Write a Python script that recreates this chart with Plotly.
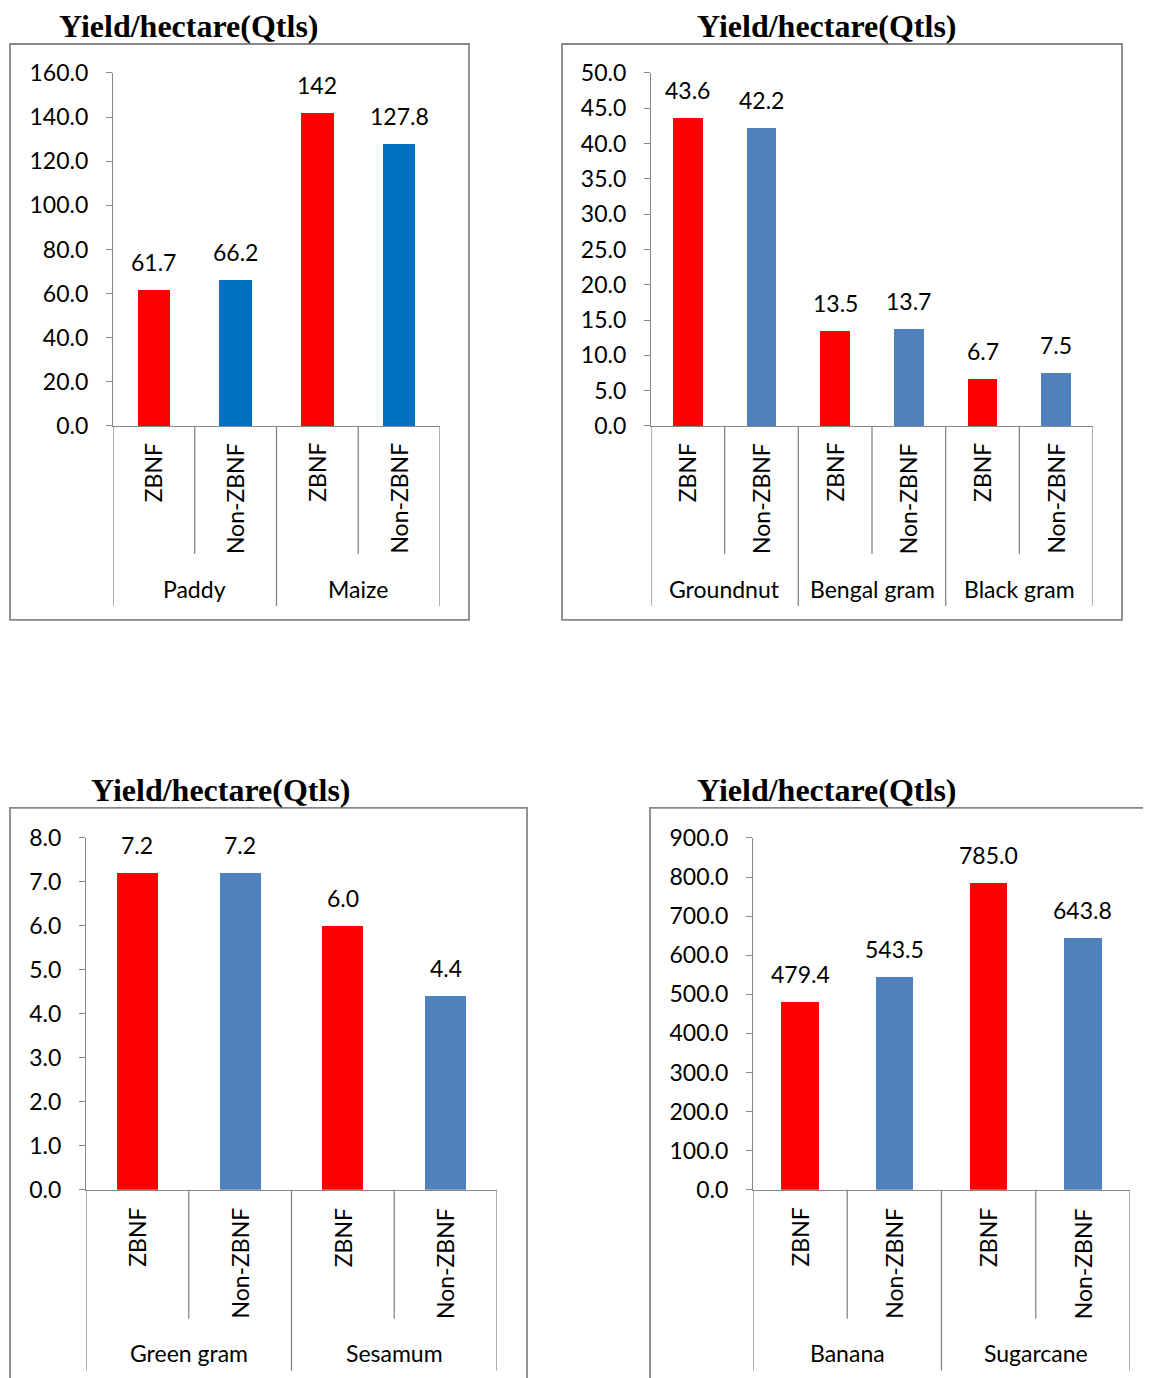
import plotly.graph_objects as go

# ---------------- data ----------------
title_text = "Yield/hectare(Qtls)"
sub_labels = ["ZBNF", "Non-ZBNF"]

p1_groups = ["Paddy", "Maize"]
p1_values = [61.7, 66.2, 142, 127.8]
p1_labels = ["61.7", "66.2", "142", "127.8"]

p2_groups = ["Groundnut", "Bengal gram", "Black gram"]
p2_values = [43.6, 42.2, 13.5, 13.7, 6.7, 7.5]
p2_labels = ["43.6", "42.2", "13.5", "13.7", "6.7", "7.5"]

p3_groups = ["Green gram", "Sesamum"]
p3_values = [7.2, 7.2, 6.0, 4.4]
p3_labels = ["7.2", "7.2", "6.0", "4.4"]

p4_groups = ["Banana", "Sugarcane"]
p4_values = [479.4, 543.5, 785.0, 643.8]
p4_labels = ["479.4", "543.5", "785.0", "643.8"]

y_ranges = [(0, 160, 20), (0, 50, 5), (0, 8, 1), (0, 900, 100)]

# ---------------- style / layout ----------------
# page offsets observed in the viewer (body margin etc.)
OFF_X, OFF_Y, SCALE_Y = 8, 22, 0.98
W, H = 1135, 1392
RED = "#FF0000"
BLUES = ["#0070C0", "#4F81BD", "#4F81BD", "#4F81BD"]
GRAY = "#878787"
FONT = "Lato"
FS = 23

# pixel geometry per panel (window coordinates)
panels = [
    dict(groups=p1_groups, values=p1_values, labels=p1_labels,
         ax_l=113, ax_r=440, top=72, bot=425, frame=(10, 43, 469, 619),
         tx=188, ty=25, lab_top=440, sep_in=553, sep_out=605, grp_y=588),
    dict(groups=p2_groups, values=p2_values, labels=p2_labels,
         ax_l=651, ax_r=1093, top=72, bot=425, frame=(562, 43, 1122, 619),
         tx=826, ty=25, lab_top=440, sep_in=553, sep_out=605, grp_y=588),
    dict(groups=p3_groups, values=p3_values, labels=p3_labels,
         ax_l=86, ax_r=497, top=837, bot=1189, frame=(10, 807, 527, 1420),
         tx=220, ty=789, lab_top=1205, sep_in=1318, sep_out=1370, grp_y=1352),
    dict(groups=p4_groups, values=p4_values, labels=p4_labels,
         ax_l=753, ax_r=1130, top=837, bot=1189, frame=(650, 807, 1180, 1420),
         tx=826, ty=789, lab_top=1205, sep_in=1318, sep_out=1370, grp_y=1352),
]


def px(x):
    return (x - OFF_X) / W


def py(y):
    return 1 - ((y - OFF_Y) / SCALE_Y) / H


fig = go.Figure()
shapes = []
annotations = []
layout_axes = {}

for k, p in enumerate(panels):
    idx = "" if k == 0 else str(k + 1)
    xa, ya = "x" + idx, "y" + idx
    n = len(p["values"])
    xs = list(range(n))
    colors = [RED if i % 2 == 0 else BLUES[k] for i in xs]
    fig.add_trace(go.Bar(x=xs, y=p["values"], marker=dict(color=colors, line=dict(width=0)),
                         width=0.4, xaxis=xa, yaxis=ya, showlegend=False, hoverinfo="skip"))
    y0, y1, dt = y_ranges[k]
    layout_axes["xaxis" + idx] = dict(
        domain=[px(p["ax_l"]), px(p["ax_r"])], anchor=ya, range=[-0.5, n - 0.5],
        showline=True, linecolor=GRAY, linewidth=1.3, showticklabels=False,
        ticks="", showgrid=False, zeroline=False, fixedrange=True)
    layout_axes["yaxis" + idx] = dict(
        domain=[py(p["bot"]), py(p["top"])], anchor=xa, range=[y0, y1], dtick=dt,
        tick0=0, tickformat=".1f", showline=True, linecolor=GRAY, linewidth=1.3,
        ticks="outside", ticklen=6, tickcolor=GRAY, tickwidth=1.3,
        ticklabelstandoff=13, showgrid=False, zeroline=False,
        tickfont=dict(family=FONT, size=FS, color="black"), fixedrange=True)

    # frame
    fx0, fy0, fx1, fy1 = p["frame"]
    shapes.append(dict(type="rect", xref="paper", yref="paper",
                       x0=px(fx0), x1=px(fx1), y0=py(fy1), y1=py(fy0),
                       line=dict(color=GRAY, width=1.8), fillcolor="rgba(0,0,0,0)", layer="below"))
    # title
    annotations.append(dict(text="<b>" + title_text + "</b>", xref="paper", yref="paper",
                            x=px(p["tx"]), y=py(p["ty"]), xanchor="center", yanchor="middle",
                            showarrow=False,
                            font=dict(family="Liberation Serif", size=32, color="black")))
    # separators
    for b in range(n + 1):
        xb = b - 0.5
        outer = (b % 2 == 0)
        shapes.append(dict(type="line", xref=xa, yref="paper", x0=xb, x1=xb,
                           y0=py(p["bot"]), y1=py(p["sep_out"] if outer else p["sep_in"]),
                           line=dict(color=GRAY, width=1.3)))
    # sub labels & data labels
    for i in xs:
        annotations.append(dict(text=sub_labels[i % 2], xref=xa, yref="paper", x=i,
                                y=py(p["lab_top"]), xanchor="center", yanchor="top",
                                textangle=-90, showarrow=False,
                                font=dict(family=FONT, size=FS, color="black")))
        annotations.append(dict(text=p["labels"][i], xref=xa, yref=ya, x=i, y=p["values"][i],
                                xanchor="center", yanchor="bottom", yshift=12, showarrow=False,
                                font=dict(family=FONT, size=FS, color="black")))
    # group labels
    for g, name in enumerate(p["groups"]):
        annotations.append(dict(text=name, xref=xa, yref="paper", x=2 * g + 0.5,
                                y=py(p["grp_y"]), xanchor="center", yanchor="middle",
                                showarrow=False,
                                font=dict(family=FONT, size=FS, color="black")))

fig.update_layout(width=W, height=H, margin=dict(l=0, r=0, t=0, b=0),
                  paper_bgcolor="white", plot_bgcolor="white",
                  shapes=shapes, annotations=annotations, bargap=0, **layout_axes)

fig.write_html("out.html")
